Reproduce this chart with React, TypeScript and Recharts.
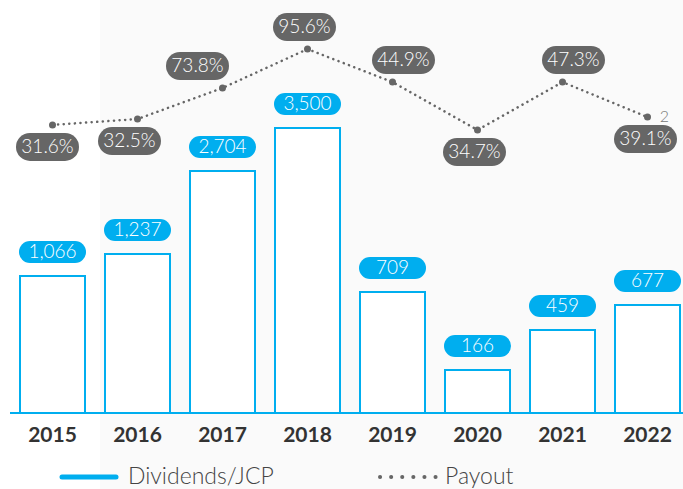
import React from "react";
import {
  ComposedChart,
  Bar,
  Line,
  XAxis,
  YAxis,
  LabelList,
} from "recharts";

const years = ["2015", "2016", "2017", "2018", "2019", "2020", "2021", "2022"];
// values printed in the cyan labels
const dividends = [1066, 1237, 2704, 3500, 709, 166, 459, 677];
// bar heights as drawn in the picture (not proportional to the printed values)
const dividendBarLevel = [1743, 2023, 3079, 3626, 1539, 547, 1056, 1374];
// values printed in the grey labels
const payout = [31.6, 32.5, 73.8, 95.6, 44.9, 34.7, 47.3, 39.1];
// payout point heights as drawn in the picture (0-100 scale)
const payoutLevel = [73.3, 74.8, 82.7, 92.6, 84.2, 72.0, 84.2, 75.3];

const data = years.map((year, i) => ({
  year,
  dividends: dividends[i],
  barLevel: dividendBarLevel[i],
  payout: payout[i],
  payLevel: payoutLevel[i],
}));

const CYAN = "#00aeef";
const GREY = "#666666";
const FONT = "Lato, 'Open Sans', sans-serif";

// where each payout pill sits relative to its point
const PILL_SIDE = [1, 1, -1, -1, -1, 1, -1, 1];
const PILL_DX = [-5, -8, -25, -3, 11, -3, 11, -2];

function BarPill(props: any) {
  const { x, y, width, index } = props;
  const cx = x + width / 2;
  const cy = y - 24;
  const w = 67;
  const h = 22;
  return (
    <g>
      <rect x={cx - w / 2} y={cy - h / 2} width={w} height={h} rx={11} fill={CYAN} />
      <text
        x={cx}
        y={cy + 1}
        textAnchor="middle"
        dominantBaseline="middle"
        fill="#fff"
        fontSize={19}
        fontWeight={300}
        fontFamily={FONT}
      >
        {dividends[index].toLocaleString("en-US")}
      </text>
    </g>
  );
}

function PayoutPill(props: any) {
  const { x, y, index } = props;
  const cx = x + PILL_DX[index];
  const cy = y + PILL_SIDE[index] * 22;
  const w = 63;
  const h = 28;
  return (
    <g>
      <rect x={cx - w / 2} y={cy - h / 2} width={w} height={h} rx={14} fill={GREY} />
      <text
        x={cx}
        y={cy + 1}
        textAnchor="middle"
        dominantBaseline="middle"
        fill="#fff"
        fontSize={19}
        fontWeight={300}
        fontFamily={FONT}
      >
        {payout[index].toFixed(1) + "%"}
      </text>
      {index === years.length - 1 && (
        <text
          x={x + 17}
          y={y + 1}
          textAnchor="middle"
          dominantBaseline="middle"
          fill="#777"
          fontSize={16}
          fontWeight={300}
          fontFamily={FONT}
        >
          2
        </text>
      )}
    </g>
  );
}

function YearTick(props: any) {
  const { x, y, payload } = props;
  return (
    <text
      x={x}
      y={y + 16}
      textAnchor="middle"
      dominantBaseline="middle"
      fill="#333"
      fontSize={21}
      fontWeight={700}
      fontFamily={FONT}
    >
      {payload.value}
    </text>
  );
}

export default function App() {
  return (
    <div
      style={{
        position: "absolute",
        left: 0,
        top: 0,
        width: 683,
        height: 489,
        overflow: "hidden",
        background: "linear-gradient(to right, #fff 0, #fff 100px, #fafafa 100px)",
      }}
    >
      <ComposedChart
        width={690}
        height={489}
        data={data}
        margin={{ top: 20, right: 0, left: 10, bottom: 46 }}
      >
        <XAxis
          dataKey="year"
          height={30}
          axisLine={{ stroke: CYAN, strokeWidth: 2 }}
          tickLine={false}
          tick={<YearTick />}
          interval={0}
        />
        <YAxis yAxisId="bar" hide domain={[0, 5000]} />
        <YAxis yAxisId="pay" hide domain={[0, 100]} />
        <Bar
          yAxisId="bar"
          dataKey="barLevel"
          fill="#fff"
          stroke={CYAN}
          strokeWidth={2}
          barSize={65}
          isAnimationActive={false}
        >
          <LabelList dataKey="barLevel" content={<BarPill />} />
        </Bar>
        <Line
          yAxisId="pay"
          type="linear"
          dataKey="payLevel"
          stroke={GREY}
          strokeWidth={2.5}
          strokeDasharray="0.1 5.5"
          strokeLinecap="round"
          dot={{ r: 3.5, fill: GREY, stroke: "none" }}
          activeDot={false}
          isAnimationActive={false}
        >
          <LabelList dataKey="payLevel" content={<PayoutPill />} />
        </Line>
      </ComposedChart>
      <svg
        width={683}
        height={489}
        style={{ position: "absolute", left: 0, top: 0, pointerEvents: "none" }}
      >
        <line x1={62} x2={116} y1={477} y2={477} stroke={CYAN} strokeWidth={5} strokeLinecap="round" />
        <text x={128} y={484} fontSize={23} fill="#444" fontFamily={FONT} fontWeight={300}>
          Dividends/JCP
        </text>
        <line
          x1={380}
          x2={436}
          y1={477}
          y2={477}
          stroke={GREY}
          strokeWidth={4}
          strokeDasharray="0.1 11"
          strokeLinecap="round"
        />
        <text x={445} y={484} fontSize={23} fill="#444" fontFamily={FONT} fontWeight={300}>
          Payout
        </text>
      </svg>
    </div>
  );
}
